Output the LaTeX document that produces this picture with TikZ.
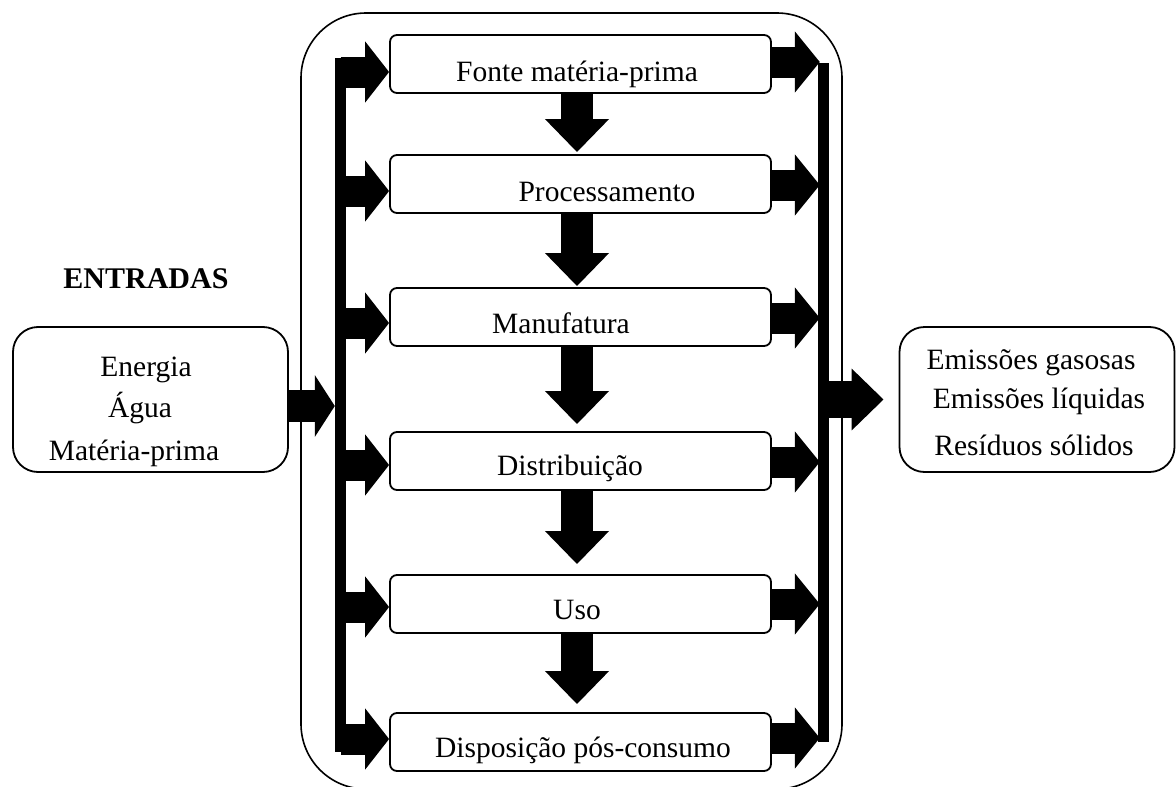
\documentclass[tikz,border=0pt]{standalone}
\usepackage{fontspec}
\setmainfont{Liberation Serif}
\usetikzlibrary{arrows.meta,calc}
\begin{document}
\begin{tikzpicture}[x=1pt,y=-1pt,
  frame/.style={draw, line width=1.6pt, rounded corners=65pt, inner sep=0pt},
  stage/.style={draw, line width=1.8pt, rounded corners=7pt, inner sep=0pt,
    minimum width=381pt, minimum height=58pt},
  sidebox/.style={draw, line width=1.8pt, rounded corners=25pt, inner sep=0pt,
    minimum width=275pt, minimum height=145pt},
  txt/.style={anchor=base, inner sep=0pt, font=\fontsize{29.5pt}{35pt}\selectfont},
  busbar/.style={fill=black, inner sep=0pt, minimum width=11pt},
  feed/.style={line width=31pt, -{Triangle[width=60pt,length=24pt]}},
  emit/.style={line width=31pt, -{Triangle[width=60pt,length=25pt]}},
  flow/.style={line width=32pt, -{Triangle[width=62pt,length=33pt]}},
  inflow/.style={line width=32pt, -{Triangle[width=61pt,length=20pt]}},
  outflow/.style={line width=37pt, -{Triangle[width=60pt,length=32pt]}}
]
\useasboundingbox (0,0) rectangle (1176,787);

% outer life-cycle frame
\node[frame, minimum width=541pt, minimum height=776pt] (cycle) at (571.5,401) {};

% life-cycle stages
\node[stage] (b1) at (580.5,64) {};
\node[stage] (b2) at (580.5,184) {};
\node[stage] (b3) at (580.5,317) {};
\node[stage] (b4) at (580.5,461) {};
\node[stage] (b5) at (580.5,604) {};
\node[stage] (b6) at (580.5,742) {};

\node[txt] at (577,81) {Fonte matéria-prima};
\node[txt] at (607,201) {Processamento};
\node[txt] at (561,333) {Manufatura};
\node[txt] at (570,475) {Distribuição};
\node[txt] at (577,619) {Uso};
\node[txt] at (583,757) {Disposição pós-consumo};

% inputs and outputs
\node[txt, font=\fontsize{30pt}{35pt}\selectfont\bfseries] (entr) at (146,288) {ENTRADAS};
\node[sidebox] (inbox) at (150.5,399.5) {};
\node[txt] at (146,376) {Energia};
\node[txt] at (140,417) {Água};
\node[txt] at (134,460) {Matéria-prima};

\node[sidebox] (outbox) at (1037,399.5) {};
\node[txt] at (1031,369) {Emissões gasosas};
\node[txt] at (1039,408) {Emissões líquidas};
\node[txt] at (1034,455) {Resíduos sólidos};

% distribution bars
\node[busbar, minimum height=694pt] (lbar) at (340.5,405) {};
\node[busbar, minimum height=679pt] (rbar) at (823.5,402) {};

% stage-to-stage flow
\coordinate (axis) at (577,0);
\draw[flow, shorten >=2pt] (b1.south -| axis) -- (b2.north -| axis);
\draw[flow, shorten >=1pt] (b2.south -| axis) -- (b3.north -| axis);
\draw[flow, shorten >=7pt] (b3.south -| axis) -- (b4.north -| axis);
\draw[flow, shorten >=10pt] (b4.south -| axis) -- (b5.north -| axis);
\draw[flow, shorten >=8pt] (b5.south -| axis) -- (b6.north -| axis);

% feeds from the left bar into every stage
\foreach \b/\dy in {b1/-8, b2/-7, b3/-6, b4/-4, b5/-3, b6/3}
  \draw[feed] ([yshift=\dy pt]lbar.center |- \b.west) -- ([yshift=\dy pt]\b.west);

% emissions from every stage to the right bar
\foreach \b/\dy in {b1/2, b2/-1, b3/-1, b4/-1, b5/0, b6/4}
  \draw[emit, shorten >=-2pt] ([yshift=\dy pt]\b.east) -- ([yshift=\dy pt]rbar.west |- \b.east);

% overall input and output
\draw[inflow] ([yshift=-6.5pt]inbox.east) -- ([yshift=-6.5pt]lbar.west |- inbox.east);
\draw[outflow, shorten >=15pt] (rbar.center |- outbox.west) -- (outbox.west);
\end{tikzpicture}
\end{document}
